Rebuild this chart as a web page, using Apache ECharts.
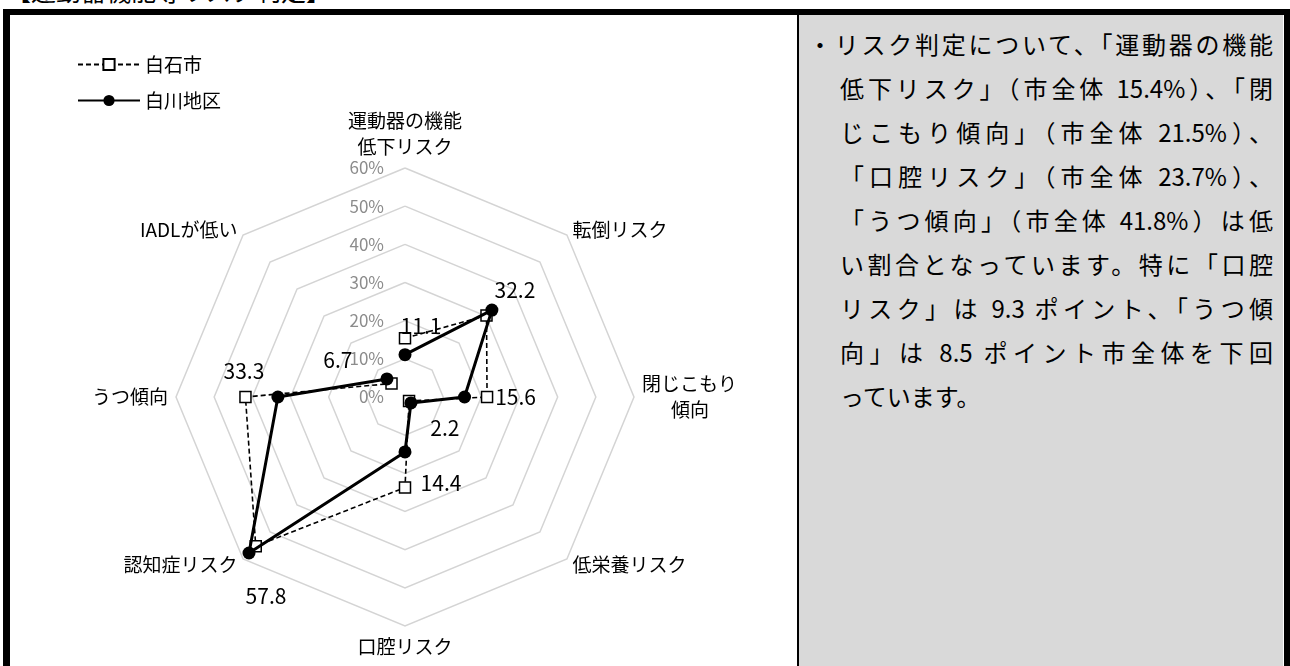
<!DOCTYPE html>
<html lang="ja">
<head>
<meta charset="utf-8">
<script src="https://cdn.jsdelivr.net/npm/echarts@6/dist/echarts.min.js"></script>
<style>
html,body{margin:0;padding:0;width:1290px;height:666px;overflow:hidden;background:#fff;font-family:"Noto Sans CJK JP",sans-serif;}
#title{position:absolute;left:6px;top:-25px;font-size:25px;line-height:30px;white-space:nowrap;color:#000;}
#frame{position:absolute;left:3px;top:9px;width:1274px;height:700px;border-top:6px solid #000;border-left:7px solid #000;border-right:6px solid #000;}
#divider{position:absolute;left:797px;top:15px;width:2px;height:700px;background:#000;}
#panel{position:absolute;left:799px;top:15px;width:484px;height:700px;background:#d9d9d9;}
.ln{position:absolute;font-size:24px;line-height:30px;color:#000;text-align:justify;text-align-last:justify;}
#chart{position:absolute;left:0;top:0;width:1290px;height:666px;}
</style>
</head>
<body>
<div id="title">【運動器機能等リスク判定】</div>
<div id="frame"></div>
<div id="panel"></div>
<div id="divider"></div>
<div id="text"></div>
<div id="chart"></div>
<script>
// ---- data ----
const indicatorNames = ['運動器の機能\n低下リスク', '転倒リスク', '閉じこもり\n傾向', '低栄養リスク', '口腔リスク', '認知症リスク', 'うつ傾向', 'IADLが低い'];
const seriesNames = ['白石市', '白川地区'];
const shiroishiValues = [15.4, 30.2, 21.5, 1.5, 23.7, 55.3, 41.8, 5.0];
const shirakawaValues = [11.1, 32.2, 15.6, 2.2, 14.4, 57.8, 33.3, 6.7];
const axisMin = 0;
const axisMax = 60;
const tickInterval = 10;
const panelLines = [
  '・リスク判定について、「運動器の機能',
  '低下リスク」（市全体 15.4%）、「閉',
  'じこもり傾向」（市全体 21.5%）、',
  '「口腔リスク」（市全体 23.7%）、',
  '「うつ傾向」（市全体 41.8%）は低',
  'い割合となっています。特に「口腔',
  'リスク」は 9.3 ポイント、「うつ傾',
  '向」は 8.5 ポイント市全体を下回',
  'っています。'
];

// ---- label placement (style) ----
const labelOffsets = [[16,-29],[23,-20],[51,0],[34,25],[36,31],[17,43],[-34,-26],[-49,-19]];

// ---- side text ----
const textHost = document.getElementById('text');
panelLines.forEach((t, i) => {
  const d = document.createElement('div');
  d.className = 'ln';
  const left = i === 0 ? 808 : 840;
  d.style.left = left + 'px';
  d.style.top = (29 + i * 44) + 'px';
  if (i < panelLines.length - 1) {
    d.style.width = (1273 - left) + 'px';
  } else {
    d.style.textAlignLast = 'left';
    d.style.textAlign = 'left';
  }
  d.textContent = t;
  textHost.appendChild(d);
});

function closedRing(vals) {
  const d = vals.map((v, i) => ({ value: [v, i] }));
  d.push({ value: [vals[0], 0], symbol: 'none', label: { show: false } });
  return d;
}

// radar places indicators counter-clockwise; reorder so they read clockwise like the polar series
const radarOrder = [indicatorNames[0]].concat(indicatorNames.slice(1).reverse());

const FONT = '"Noto Sans CJK JP", sans-serif';
const CX = 405, CY = 397, R = 229;

const chart = echarts.init(document.getElementById('chart'), null, { renderer: 'canvas' });
chart.setOption({
  animation: false,
  backgroundColor: 'transparent',
  textStyle: { fontFamily: FONT },
  legend: {
    data: seriesNames,
    orient: 'vertical',
    left: 72,
    top: 50,
    itemWidth: 62,
    itemHeight: 14,
    itemGap: 17,
    textStyle: { fontSize: 19, color: '#000', fontFamily: FONT },
    selectedMode: false
  },
  radar: {
    center: [CX, CY],
    radius: R,
    startAngle: 90,
    splitNumber: (axisMax - axisMin) / tickInterval,
    shape: 'polygon',
    nameGap: 8,
    indicator: radarOrder.map(n => ({ name: n, min: axisMin, max: axisMax })),
    axisName: {
      color: '#000', fontSize: 19, lineHeight: 26, fontFamily: FONT,
      formatter: function (name) {
        const parts = name.split('\n');
        if (parts.length === 2 && name.indexOf('閉じこもり') === 0) {
          return parts[0] + '\n{c|' + parts[1] + '}';
        }
        return name;
      },
      rich: { c: { fontSize: 19, lineHeight: 26, color: '#000', padding: [0, 0, 0, 29], fontFamily: FONT } }
    },
    splitLine: { lineStyle: { color: '#d4d4d4', width: 1.5 } },
    splitArea: { show: false },
    axisLine: { show: false },
    axisTick: { show: false },
    axisLabel: { show: false }
  },
  polar: { center: [CX, CY], radius: R },
  angleAxis: {
    type: 'category',
    data: indicatorNames,
    startAngle: 90,
    clockwise: true,
    boundaryGap: false,
    axisLine: { show: false },
    axisTick: { show: false },
    axisLabel: { show: false },
    splitLine: { show: false }
  },
  radiusAxis: {
    type: 'value',
    min: axisMin,
    max: axisMax,
    interval: tickInterval,
    axisLine: { show: false },
    axisTick: { show: false },
    splitLine: { show: false },
    axisLabel: { formatter: '{value}%', color: '#8c8c8c', fontSize: 17, margin: 21, fontFamily: FONT }
  },
  series: [
    {
      name: seriesNames[0],
      type: 'line',
      coordinateSystem: 'polar',
      data: closedRing(shiroishiValues),
      symbol: 'rect',
      symbolSize: 11,
      showAllSymbol: true,
      lineStyle: { color: '#000', width: 1.6, type: [5, 3] },
      itemStyle: { color: '#fff', borderColor: '#000', borderWidth: 1.5 },
      emphasis: { disabled: true },
      z: 3
    },
    {
      name: seriesNames[1],
      type: 'line',
      coordinateSystem: 'polar',
      data: closedRing(shirakawaValues),
      symbol: 'circle',
      symbolSize: 13,
      showAllSymbol: true,
      lineStyle: { color: '#000', width: 3 },
      itemStyle: { color: '#000' },
      emphasis: { disabled: true },
      label: {
        show: true,
        position: 'inside',
        color: '#000',
        fontSize: 21,
        fontFamily: FONT,
        textBorderWidth: 0,
        formatter: p => p.value[0].toFixed(1)
      },
      labelLayout: function (p) {
        const o = labelOffsets[p.dataIndex];
        if (!o) return {};
        return { dx: o[0], dy: o[1] };
      },
      z: 4
    }
  ]
});
</script>
</body>
</html>
